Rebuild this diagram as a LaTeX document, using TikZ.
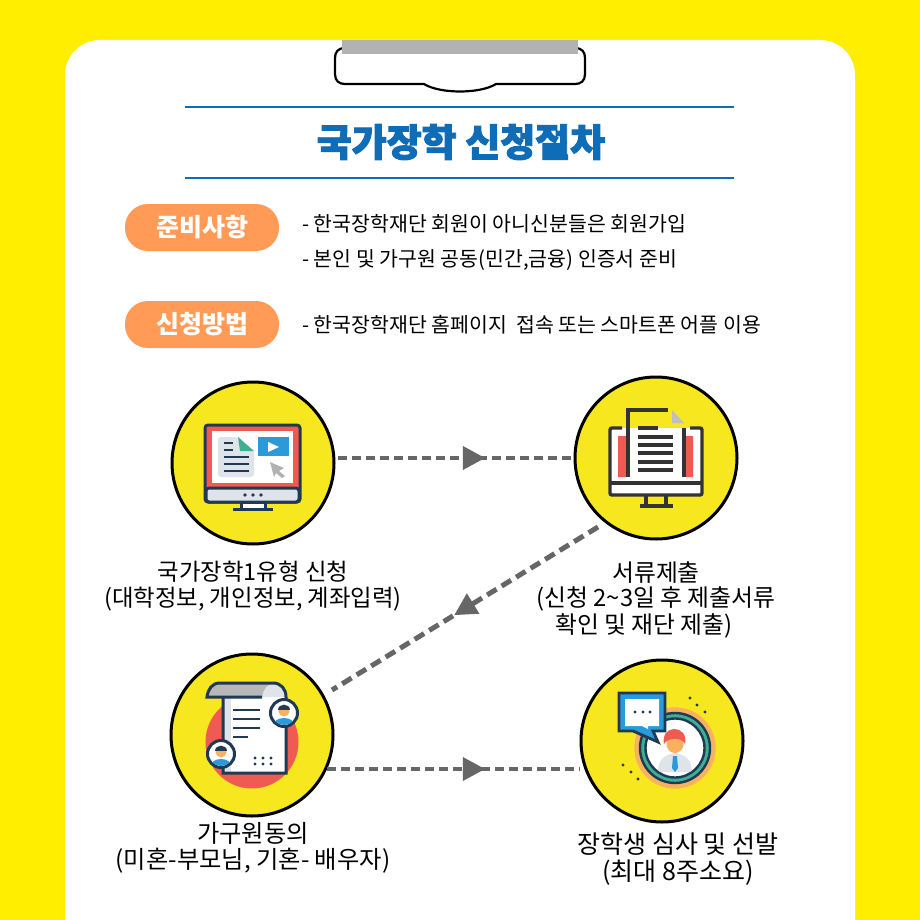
\documentclass[tikz,border=0pt]{standalone}
\usepackage{fontspec}
\usetikzlibrary{arrows.meta,decorations.markings}
\setmainfont{Noto Sans CJK KR}
\newfontfamily\heavyfont[BoldFeatures={FakeBold=2.5}]{Noto Sans CJK KR}
\definecolor{bgyellow}{HTML}{FFEE00}
\definecolor{iconyellow}{HTML}{F6E71E}
\definecolor{titleblue}{HTML}{0F6DB8}
\definecolor{pillorange}{HTML}{FF9A57}
\definecolor{navy}{HTML}{1F3A52}
\definecolor{coral}{HTML}{EF5B50}
\definecolor{skyblue}{HTML}{2A9BD8}
\definecolor{mint}{HTML}{3FAE93}
\definecolor{paleblue}{HTML}{DFE4EA}
\definecolor{softorange}{HTML}{F9B15F}
\definecolor{charcoal}{HTML}{333333}

\begin{document}
\begin{tikzpicture}[
  x=1pt, y=-1pt,
  pill/.style={rectangle, rounded corners=23pt, fill=pillorange, text=white,
               minimum width=154pt, minimum height=47pt, inner sep=0pt,
               font=\fontsize{25}{30}\selectfont\bfseries},
  body/.style={anchor=west, inner sep=0pt, font=\fontsize{20.5}{24}\selectfont},
  caption/.style={align=center, inner sep=0pt, font=\fontsize{#1}{26.5}\selectfont},
  caption/.default=23.4,
  disc/.style={circle, draw=black, line width=3pt, fill=iconyellow,
               minimum size=162pt, inner sep=0pt, outer sep=0pt},
  flow/.style={draw=black!60, line width=4.4pt, dash pattern=on 9pt off 5pt,
               postaction={decorate}, decoration={markings,
               mark=at position #1 with {\arrow[solid, black!60, line width=0pt]{Triangle[length=22pt,width=24pt]}}}},
  ink/.style={draw=navy, line width=3pt},
  thin/.style={draw=navy, line width=2.4pt},
  dark/.style={draw=charcoal, line width=3.4pt}
]
  \useasboundingbox (0,0) rectangle (920,920);
  \fill[bgyellow] (0,0) rectangle (920,920);
  \fill[white, rounded corners=35pt] (65,40) -- (855,40) -- (855,960) -- (65,960) -- cycle;
  \clip (0,0) rectangle (920,920);

  % clip board
  \draw[black, line width=2.2pt, fill=white] (345,48) -- (575,48)
    .. controls (582,48) and (585,52) .. (585,58) -- (585,74)
    .. controls (585,81) and (581,84) .. (575,84) -- (496,84)
    .. controls (480,94) and (440,94) .. (424,84) -- (345,84)
    .. controls (339,84) and (335,81) .. (335,74) -- (335,58)
    .. controls (335,52) and (338,48) .. (345,48) -- cycle;
  \fill[black!30] (342,40) rectangle (578,54);

  % title
  \draw[titleblue, line width=1.8pt] (185,107) -- (734,107);
  \draw[titleblue, line width=1.8pt] (185,178) -- (734,178);
  \node[text=titleblue, inner sep=0pt, font=\fontsize{38}{42}\selectfont\heavyfont\bfseries] (title) at (461,142) {국가장학 신청절차};

  \node[pill] (prep) at (202,227.5) {준비사항};
  \node[pill] (apply) at (202,324.5) {신청방법};
  \node[body] (prep1) at (302,224) {- 한국장학재단 회원이 아니신분들은 회원가입};
  \node[body] (prep2) at (302,260) {- 본인 및 가구원 공동(민간,금융) 인증서 준비};
  \node[body] (apply1) at (302,325) {- 한국장학재단 홈페이지\ \ 접속 또는 스마트폰 어플 이용};

  % steps
  \node[disc] (web) at (253,463) {};
  \node[disc] (docs) at (656,458) {};
  \node[disc] (agree) at (252,735) {};
  \node[disc] (review) at (662,741) {};

  \coordinate (webout) at (338,458);
  \coordinate (docsin) at (575,458);
  \coordinate (docsout) at (598,527);
  \coordinate (agreein) at (332,690);
  \coordinate (agreeout) at (327,769);
  \coordinate (reviewin) at (580,769);
  \draw[flow=0.62] (webout) -- (docsin);
  \draw[flow=0.54, line width=5pt, dash pattern=on 11pt off 6pt] (docsout) -- (agreein);
  \draw[flow=0.624] (agreeout) -- (reviewin);

  \node[caption] (webtxt) at (253,586) {국가장학1유형 신청\\(대학정보, 개인정보, 계좌입력)};
  \node[caption=23.8] (docstxt) at (656,573) {서류제출};
  \node[caption=23.8] (docstxt2) at (656,599) {(신청 2\textasciitilde 3일 후 제출서류};
  \node[caption=23.8] (docstxt3) at (644,626) {확인 및 재단 제출)};
  \node[caption=24.3] (agreetxt) at (253,848) {가구원동의\\(미혼-부모님, 기혼- 배우자)};
  \node[caption=25] (reviewtxt) at (678,859) {장학생 심사 및 선발\\(최대 8주소요)};

  % icon: web form
  \draw[ink, fill=coral, rounded corners=3pt] (205,425) rectangle (300,502);
  \fill[white] (212,431) rectangle (293,483);
  \draw[ink, fill=paleblue, rounded corners=3pt] (206,488) rectangle (299,502);
  \fill[navy] (245,495) circle (1.8) (253,495) circle (1.8) (261,495) circle (1.8);
  \draw[ink, fill=white] (241,502) rectangle (265,509);
  \draw[ink] (233,509) -- (273,509);
  \fill[paleblue, rounded corners=3pt] (218,437) -- (238,437) -- (254,451) -- (254,477) -- (218,477) -- cycle;
  \fill[mint] (238,437) -- (254,451) -- (240,451) -- cycle;
  \foreach \ly in {443,450} \draw[thin] (224,\ly) -- (233,\ly);
  \foreach \ly in {457,464,471} \draw[thin] (224,\ly) -- (249,\ly);
  \fill[skyblue] (258,437) rectangle (289,456);
  \fill[white] (268,442) -- (279,447) -- (268,452) -- cycle;
  \fill[black!30] (270,462) -- (284,468) -- (279,471) -- (285,476) -- (282,478) -- (276,473) -- (274,477) -- cycle;

  % icon: submitted papers
  \fill[white] (611,428) rectangle (701,495);
  \fill[coral] (618,436) rectangle (627,477) (686,436) rectangle (693,477);
  \draw[dark, rounded corners=2pt] (622,428) -- (610,428) -- (610,495) -- (702,495) -- (702,428) -- (690,428);
  \draw[dark] (638,428) -- (658,428);
  \draw[dark] (610,483) -- (702,483);
  \draw[dark] (628,477) -- (628,410) -- (668,410);
  \draw[dark] (684,428) -- (684,477);
  \fill[black!25] (672,410) -- (684,423) -- (672,423) -- cycle;
  \foreach \ly in {437,445,453,462,470} \draw[dark] (638,\ly) -- (673,\ly);
  \draw[dark] (646,495) -- (646,506) (666,495) -- (666,506);
  \draw[dark] (640,506) -- (673,506);

  % icon: consent scroll
  \fill[coral] (252,742) circle (46.5);
  \fill[white] (223,690) rectangle (286,773);
  \fill[paleblue] (223,697) rectangle (231,773);
  \fill[paleblue] (262,697) .. controls (263,690) and (266,685) .. (273,683)
    .. controls (281,683) and (286,689) .. (286,697) -- cycle;
  \fill[black!28] (207,697) .. controls (208,689) and (212,683) .. (220,683)
    -- (273,683) .. controls (266,685) and (263,690) .. (262,697) -- cycle;
  \draw[ink] (223,697) -- (223,773) -- (286,773) -- (286,697)
    .. controls (286,689) and (281,683) .. (273,683) -- (220,683)
    .. controls (212,683) and (208,689) .. (207,697) -- (262,697);
  \foreach \ly in {710,719,728} \draw[thin] (233,\ly) -- (260,\ly);
  \draw[thin] (233,737) -- (248,737);
  \foreach \lx in {255,263,271} \fill[navy] (\lx,758) circle (1.7) (\lx,764) circle (1.7);
  \foreach \ax/\ay in {284/713,221/754} {
    \begin{scope}
      \draw[ink, fill=white] (\ax,\ay) circle (13.5);
      \clip (\ax,\ay) circle (12);
      \fill[skyblue] (\ax,\ay+13) ellipse (11 and 8);
      \fill[softorange] (\ax,\ay-2) circle (5.5);
      \fill[navy] (\ax-6,\ay-3) .. controls (\ax-6,\ay-10) and (\ax+6,\ay-10) .. (\ax+6,\ay-3) -- cycle;
    \end{scope}
  }

  % icon: reviewer
  \fill[softorange] (675,748) circle (40.7);
  \draw[navy, line width=2.4pt, fill=mint] (675,748) circle (35);
  \draw[navy, line width=2.4pt, fill=white] (675,748) circle (29.5);
  \begin{scope}
    \clip (675,748) circle (28);
    \fill[paleblue] (658,772) .. controls (658,760) and (664,755) .. (675,753)
      .. controls (686,755) and (692,760) .. (692,772) -- cycle;
    \fill[skyblue] (673,756) -- (677,756) -- (678,768) -- (675,772) -- (672,768) -- cycle;
    \fill[softorange] (675,744) ellipse (8.5 and 9);
    \fill[coral] (664,744) .. controls (660,724) and (689,724) .. (685,744)
      .. controls (682,737) and (668,737) .. (664,744) -- cycle;
  \end{scope}
  \draw[navy, line width=2.8pt, fill=skyblue] (619,693) -- (665,693) -- (665,731) -- (653,731)
    -- (658,742) -- (633,731) -- (619,731) -- cycle;
  \fill[white] (625,699) -- (659,699) -- (659,726) -- (648,726) -- (648,729) -- (642,726) -- (625,726) -- cycle;
  \fill[navy] (635,712) circle (1.7) (643,712) circle (1.7) (650,712) circle (1.7);
  \fill[navy] (690,698) circle (1.7) (697,705) circle (1.7) (705,712) circle (1.7);
  \fill[navy] (623,765) circle (1.7) (631,772) circle (1.7) (638,779) circle (1.7);
\end{tikzpicture}
\end{document}
